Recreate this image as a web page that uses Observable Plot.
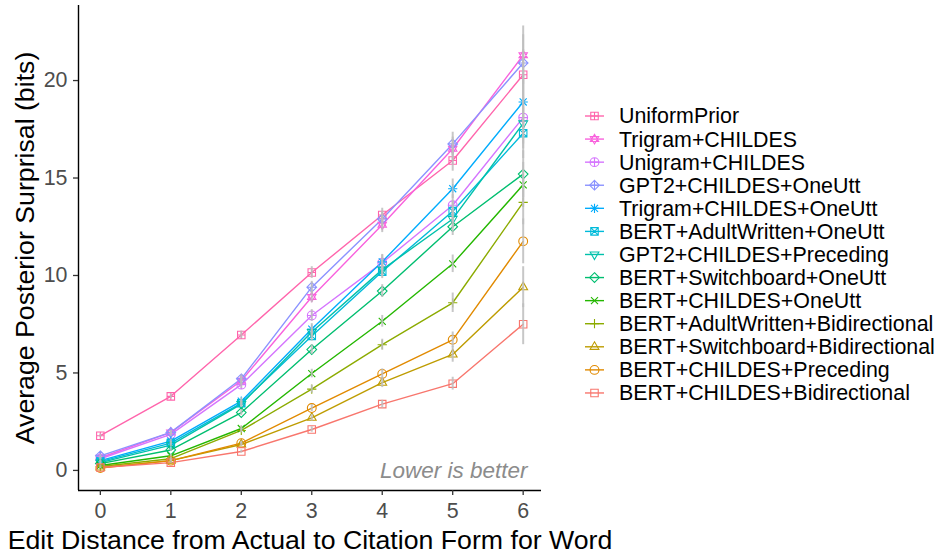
<!DOCTYPE html>
<html>
<head>
<meta charset="utf-8">
<script src="https://cdn.jsdelivr.net/npm/d3@7"></script>
<script src="https://cdn.jsdelivr.net/npm/@observablehq/plot@0.6"></script>
<style>
  html, body { margin: 0; padding: 0; background: #fff; }
  #wrap { position: relative; width: 937px; height: 555px; font-family: "Liberation Sans", Arial, sans-serif; }
  #legend { position: absolute; left: 560px; top: 100px; }
</style>
</head>
<body>
<div id="wrap"><div id="chart"></div><svg id="legend" width="377" height="310"></svg></div>
<script>
// ---- data ----
const editDistance = [0, 1, 2, 3, 4, 5, 6];
const xTicks = [0, 1, 2, 3, 4, 5, 6];
const yTicks = [0, 5, 10, 15, 20];
const models = [
  "UniformPrior",
  "Trigram+CHILDES",
  "Unigram+CHILDES",
  "GPT2+CHILDES+OneUtt",
  "Trigram+CHILDES+OneUtt",
  "BERT+AdultWritten+OneUtt",
  "GPT2+CHILDES+Preceding",
  "BERT+Switchboard+OneUtt",
  "BERT+CHILDES+OneUtt",
  "BERT+AdultWritten+Bidirectional",
  "BERT+Switchboard+Bidirectional",
  "BERT+CHILDES+Preceding",
  "BERT+CHILDES+Bidirectional"
];
// mean surprisal per edit distance 0..6
const uniformPrior          = [1.78, 3.80, 6.95, 10.15, 13.10, 15.90, 20.30];
const trigramChildes        = [0.65, 1.95, 4.60, 8.90, 12.60, 16.50, 21.30];
const unigramChildes        = [0.60, 1.85, 4.40, 7.95, 10.65, 13.60, 18.10];
const gpt2ChildesOneUtt     = [0.75, 1.95, 4.70, 9.40, 12.90, 16.75, 20.90];
const trigramChildesOneUtt  = [0.50, 1.50, 3.55, 7.25, 10.70, 14.45, 18.90];
const bertAdultOneUtt       = [0.45, 1.40, 3.45, 6.90, 10.20, 13.30, 17.30];
const gpt2ChildesPreceding  = [0.40, 1.30, 3.40, 7.10, 10.30, 12.90, 17.80];
const bertSwitchOneUtt      = [0.35, 1.05, 2.97, 6.20, 9.20, 12.50, 15.20];
const bertChildesOneUtt     = [0.25, 0.75, 2.15, 4.97, 7.65, 10.60, 14.65];
const bertAdultBidir        = [0.20, 0.60, 2.05, 4.17, 6.45, 8.60, 13.75];
const bertSwitchBidir       = [0.15, 0.50, 1.33, 2.70, 4.50, 5.95, 9.40];
const bertChildesPreceding  = [0.12, 0.50, 1.40, 3.20, 4.95, 6.70, 11.75];
const bertChildesBidir      = [0.15, 0.40, 0.97, 2.10, 3.40, 4.45, 7.50];
// error half-widths per edit distance 0..6
const uniformPriorErr         = [0.08, 0.12, 0.20, 0.30, 0.35, 0.55, 1.30];
const trigramChildesErr       = [0.06, 0.10, 0.20, 0.30, 0.40, 0.60, 1.50];
const unigramChildesErr       = [0.06, 0.10, 0.20, 0.30, 0.40, 0.55, 1.35];
const gpt2ChildesOneUttErr    = [0.06, 0.10, 0.20, 0.30, 0.40, 0.60, 1.45];
const trigramChildesOneUttErr = [0.05, 0.10, 0.18, 0.28, 0.38, 0.50, 1.35];
const bertAdultOneUttErr      = [0.05, 0.09, 0.17, 0.27, 0.36, 0.50, 1.30];
const gpt2ChildesPrecedingErr = [0.05, 0.09, 0.17, 0.27, 0.36, 0.50, 1.30];
const bertSwitchOneUttErr     = [0.04, 0.08, 0.15, 0.25, 0.33, 0.45, 1.20];
const bertChildesOneUttErr    = [0.03, 0.07, 0.13, 0.22, 0.30, 0.45, 1.15];
const bertAdultBidirErr       = [0.03, 0.06, 0.12, 0.20, 0.28, 0.50, 1.15];
const bertSwitchBidirErr      = [0.02, 0.05, 0.10, 0.17, 0.25, 0.40, 1.05];
const bertChildesPrecedingErr = [0.02, 0.05, 0.10, 0.18, 0.26, 0.40, 1.15];
const bertChildesBidirErr     = [0.02, 0.04, 0.08, 0.14, 0.20, 0.33, 1.05];

const seriesMeans = [uniformPrior, trigramChildes, unigramChildes, gpt2ChildesOneUtt, trigramChildesOneUtt,
  bertAdultOneUtt, gpt2ChildesPreceding, bertSwitchOneUtt, bertChildesOneUtt, bertAdultBidir,
  bertSwitchBidir, bertChildesPreceding, bertChildesBidir];
const seriesErrs = [uniformPriorErr, trigramChildesErr, unigramChildesErr, gpt2ChildesOneUttErr, trigramChildesOneUttErr,
  bertAdultOneUttErr, gpt2ChildesPrecedingErr, bertSwitchOneUttErr, bertChildesOneUttErr, bertAdultBidirErr,
  bertSwitchBidirErr, bertChildesPrecedingErr, bertChildesBidirErr];

const xLabel = "Edit Distance from Actual to Citation Form for Word";
const yLabel = "Average Posterior Surprisal (bits)";
const note = "Lower is better";

// ---- style ----
const modelColors = ["#FF65AC", "#F962DD", "#D575FE", "#8B93FF", "#00ACFC", "#00BBDA", "#00C1AB",
  "#00BE70", "#24B700", "#8CAB00", "#BE9C00", "#E18A00", "#F8766D"];

const rad = size => Math.sqrt(size / Math.PI);
function sq(c, a) { c.moveTo(-a, -a); c.lineTo(a, -a); c.lineTo(a, a); c.lineTo(-a, a); c.closePath(); }
function pl(c, a) { c.moveTo(-a, 0); c.lineTo(a, 0); c.moveTo(0, -a); c.lineTo(0, a); }
function tx(c, a) { c.moveTo(-a, -a); c.lineTo(a, a); c.moveTo(-a, a); c.lineTo(a, -a); }
function dm(c, a) { c.moveTo(0, -a); c.lineTo(a, 0); c.lineTo(0, a); c.lineTo(-a, 0); c.closePath(); }
function tu(c, a) { c.moveTo(0, -a); c.lineTo(a * 0.866, a * 0.5); c.lineTo(-a * 0.866, a * 0.5); c.closePath(); }
function td(c, a) { c.moveTo(0, a); c.lineTo(a * 0.866, -a * 0.5); c.lineTo(-a * 0.866, -a * 0.5); c.closePath(); }
function ci(c, a) { c.moveTo(a, 0); c.arc(0, 0, a, 0, 2 * Math.PI); }
const shapes = [
  {draw(c, s) { const r = rad(s); sq(c, r * 0.85); pl(c, r * 0.85); }},          // square plus
  {draw(c, s) { const r = rad(s); tu(c, r * 1.1); td(c, r * 1.1); }},           // star of david
  {draw(c, s) { const r = rad(s); ci(c, r); pl(c, r); }},                        // circle plus
  {draw(c, s) { const r = rad(s); dm(c, r * 1.1); pl(c, r * 1.1); }},           // diamond plus
  {draw(c, s) { const r = rad(s); pl(c, r * 1.05); tx(c, r * 0.8); }},          // asterisk
  {draw(c, s) { const r = rad(s); sq(c, r * 0.85); tx(c, r * 0.85); }},          // square times
  {draw(c, s) { const r = rad(s); td(c, r * 1.15); }},                           // triangle down
  {draw(c, s) { const r = rad(s); dm(c, r * 1.1); }},                            // diamond
  {draw(c, s) { const r = rad(s); tx(c, r * 0.8); }},                            // times
  {draw(c, s) { const r = rad(s); pl(c, r * 1.05); }},                           // plus
  {draw(c, s) { const r = rad(s); tu(c, r * 1.15); }},                           // triangle up
  {draw(c, s) { const r = rad(s); ci(c, r); }},                                  // circle
  {draw(c, s) { const r = rad(s); sq(c, r * 0.85); }}                            // square
];

const rows = [];
models.forEach((m, i) => editDistance.forEach((d, j) => {
  rows.push({model: m, x: d, y: seriesMeans[i][j], se: seriesErrs[i][j]});
}));

const FONT = '"Liberation Sans", Arial, sans-serif';
const xDom = [-0.31, 6.26], yDom = [-1.03, 23.85];

const marks = [
  Plot.line(rows, {x: "x", y: "y", z: "model", stroke: "model", strokeWidth: 1.4}),
  ...models.map((m, i) => Plot.dot(rows.filter(d => d.model === m),
    {x: "x", y: "y", stroke: "model", fill: "none", symbol: shapes[i], r: 4.4, strokeWidth: 1.1})),
  Plot.ruleX(rows, {x: "x", y1: d => d.y - d.se, y2: d => d.y + d.se, stroke: "#BDBDBD", strokeWidth: 2, strokeOpacity: 0.85}),
  Plot.ruleX([xDom[0]], {stroke: "#000", strokeWidth: 1.4}),
  Plot.ruleY([yDom[0]], {stroke: "#000", strokeWidth: 1.4}),
  Plot.axisX({ticks: xTicks, tickFormat: d3.format("d"), tickSize: 5, tickPadding: 7, label: null, fontSize: 21.4, fill: "#4D4D4D", stroke: "#333", strokeWidth: 1.3}),
  Plot.axisY({ticks: yTicks, tickFormat: d3.format("d"), tickSize: 5, tickPadding: 6, label: null, fontSize: 21.4, fill: "#4D4D4D", stroke: "#333", strokeWidth: 1.3}),
  Plot.text([xLabel], {text: d => d, frameAnchor: "bottom", dy: 50, textAnchor: "middle", lineAnchor: "middle", fontSize: 26.7, fill: "#000"}),
  Plot.text([yLabel], {text: d => d, frameAnchor: "left", dx: -53, rotate: -90, textAnchor: "middle", lineAnchor: "middle", fontSize: 26.7, fill: "#000"}),
  Plot.text([note], {text: d => d, frameAnchor: "bottom-right", dx: -14, dy: -20, textAnchor: "end", lineAnchor: "middle", fontSize: 22.5, fontStyle: "italic", fill: "#8C8C8C"})
];

const chart = Plot.plot({
  width: 937, height: 555,
  marginLeft: 78, marginRight: 396, marginTop: 5, marginBottom: 65,
  x: {domain: xDom},
  y: {domain: yDom},
  color: {domain: models, range: modelColors},
  style: {fontFamily: FONT, fontSize: "21px", background: "#fff", color: "#000"},
  marks
});
document.getElementById("chart").appendChild(chart);

// legend
const lg = d3.select("#legend");
models.forEach((m, i) => {
  const cy = 116 + 23.08 * i - 100;
  const g = lg.append("g");
  g.append("line").attr("x1", 25).attr("x2", 44).attr("y1", cy).attr("y2", cy)
    .attr("stroke", modelColors[i]).attr("stroke-width", 1.4);
  const p = d3.path();
  shapes[i].draw(p, 4.4 * 4.4 * Math.PI);
  g.append("path").attr("d", p.toString()).attr("transform", `translate(34.5,${cy})`)
    .attr("fill", "none").attr("stroke", modelColors[i]).attr("stroke-width", 1.1);
  g.append("text").attr("x", 59).attr("y", cy).attr("dy", "0.35em")
    .attr("font-family", FONT).attr("font-size", 21.4).attr("fill", "#000").text(m);
});
</script>
</body>
</html>
